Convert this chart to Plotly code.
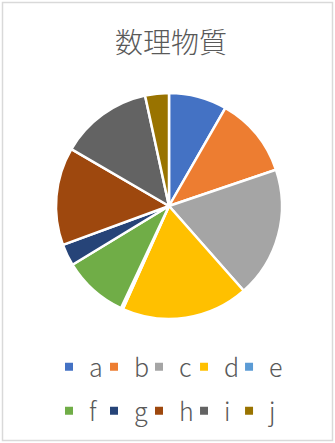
import plotly.graph_objects as go

# Slice data
labels = ["a", "b", "c", "d", "e", "f", "g", "h", "i", "j"]
values = [8.3, 11.5, 18.7, 18.2, 0.3, 9.3, 3.1, 14.0, 13.2, 3.4]
colors = ["#4472C4", "#ED7D31", "#A5A5A5", "#FFC000", "#5B9BD5",
          "#70AD47", "#264478", "#9E480E", "#636363", "#997300"]
title_text = "数理物質"

W, H = 335, 443
FONT = "Noto Sans CJK JP, Noto Sans, sans-serif"
TEXT_COLOR = "#595959"
PER_ROW = 5

fig = go.Figure()

fig.add_trace(go.Pie(
    labels=labels,
    values=values,
    sort=False,
    direction="clockwise",
    rotation=0,
    marker=dict(colors=colors, line=dict(color="white", width=2.5)),
    textinfo="none",
    hoverinfo="label+value",
    showlegend=False,
    domain=dict(x=[56 / W, 282 / W], y=[1 - 319 / H, 1 - 93 / H]),
))

# Legend entries: small square swatches, five per row in two rows
for i, (lab, col) in enumerate(zip(labels, colors)):
    last_in_row = (i % PER_ROW) == PER_ROW - 1
    fig.add_trace(go.Scatter(
        x=[None], y=[None],
        mode="markers",
        name=lab,
        marker=dict(symbol="square", size=8, color=col),
        legend="legend" if i < PER_ROW else "legend2",
        legendwidth=24 if last_in_row else None,
        hoverinfo="skip",
    ))

legend_common = dict(
    orientation="h",
    xanchor="left",
    yanchor="middle",
    entrywidthmode="pixels",
    entrywidth=0.01,
    bgcolor="rgba(0,0,0,0)",
    font=dict(family=FONT, size=25, color=TEXT_COLOR, weight=300),
)

fig.update_layout(
    width=W,
    height=H,
    margin=dict(l=0, r=0, t=0, b=0),
    paper_bgcolor="white",
    plot_bgcolor="white",
    title=dict(
        text=title_text,
        x=171 / W, xanchor="center",
        y=1 - 43 / H, yanchor="middle",
        font=dict(family=FONT, size=28, color=TEXT_COLOR, weight=300),
    ),
    xaxis=dict(visible=False),
    yaxis=dict(visible=False),
    legend=dict(x=49 / W, y=1 - 367 / H, **legend_common),
    legend2=dict(x=49 / W, y=1 - 411 / H, **legend_common),
    shapes=[dict(
        type="rect", xref="paper", yref="paper",
        x0=2.5 / W, x1=332.5 / W, y0=1 - 440.5 / H, y1=1 - 2.5 / H,
        line=dict(color="#D9D9D9", width=1.5),
        fillcolor="rgba(0,0,0,0)",
        layer="below",
    )],
)

fig.write_html("out.html")
